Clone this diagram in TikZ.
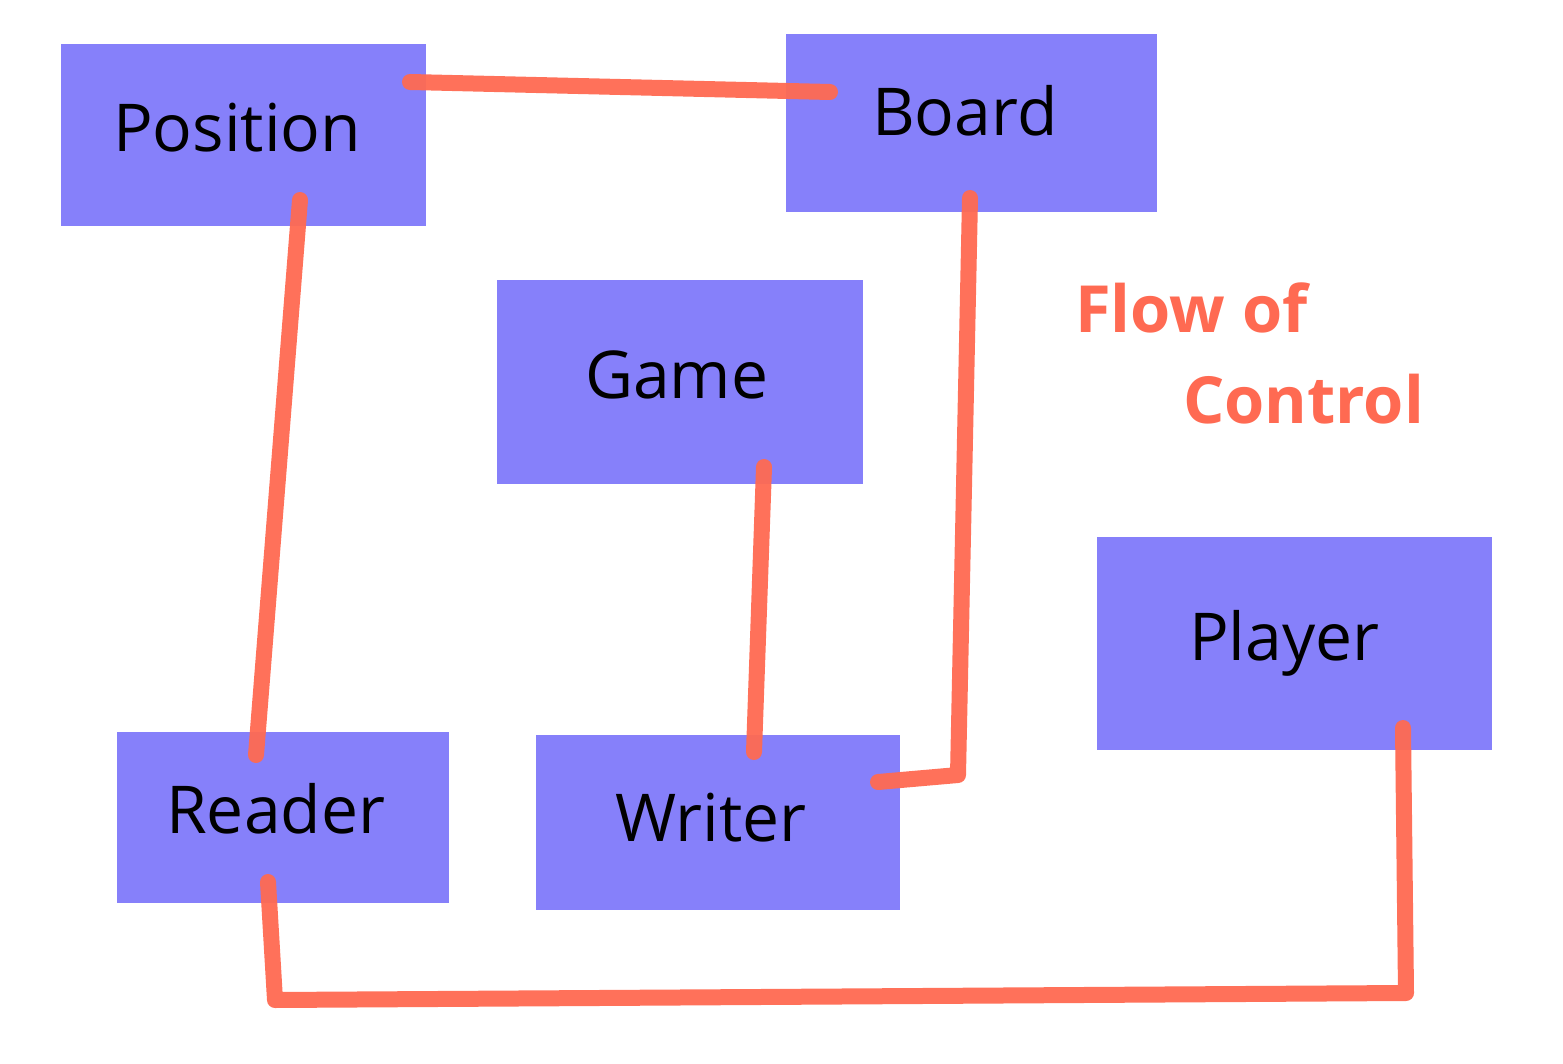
\documentclass[tikz,border=0pt]{standalone}
\usepackage{fontspec}
\setmainfont{Open Sans}
\definecolor{boxblue}{HTML}{8680FA}
\definecolor{flowred}{HTML}{FF6A52}
\begin{document}
\begin{tikzpicture}[x=1pt,y=-1pt,
  box/.style={fill=boxblue,draw=none,minimum width=#1,inner sep=0pt},
  lbl/.style={anchor=base west,inner sep=0pt,font=\fontsize{66}{70}\selectfont,text=black},
  flowtxt/.style={anchor=base west,inner sep=0pt,font=\fontsize{65}{70}\selectfont\bfseries,text=flowred},
  flow/.style={draw=flowred,line width=16pt,line cap=round,line join=round,opacity=0.95}]
\useasboundingbox (0,0) rectangle (1563,1064);
\fill[white] (0,0) rectangle (1563,1064);
% boxes
\node[box=365pt,minimum height=182pt] (pos) at (243.5,135) {};
\node[box=371pt,minimum height=178pt] (board) at (971.5,123) {};
\node[box=366pt,minimum height=204pt] (game) at (680,382) {};
\node[box=395pt,minimum height=213pt] (player) at (1294.5,643.5) {};
\node[box=332pt,minimum height=171pt] (reader) at (283,817.5) {};
\node[box=364pt,minimum height=175pt] (writer) at (718,822.5) {};
% labels
\node[lbl] (tpos) at (113,152) {Position};
\node[lbl] (tboard) at (872,136) {Board};
\node[lbl] (tgame) at (585,399) {Game};
\node[lbl] (tplayer) at (1189,660) {Player};
\node[lbl] (treader) at (166,833) {Reader};
\node[lbl] (twriter) at (615,841) {Writer};
\node[flowtxt] (tflow) at (1075,333) {Flow of};
\node[flowtxt] (tctrl) at (1183,423) {Control};
% connector end points
\coordinate (posR) at (410,82);
\coordinate (boardL) at (830,92);
\coordinate (posB) at (300,200);
\coordinate (readerT) at (256,755);
\coordinate (boardB) at (970,198);
\coordinate (bend1) at (958,775);
\coordinate (writerR) at (878,782);
\coordinate (gameB) at (764,467);
\coordinate (writerT) at (754,752);
\coordinate (readerB) at (268,882);
\coordinate (bend2) at (275,1000);
\coordinate (bend3) at (1406,993);
\coordinate (playerB) at (1403,728);
% connectors
\draw[flow] (posR) -- (boardL);
\draw[flow] (posB) -- (readerT);
\draw[flow] (boardB) -- (bend1) -- (writerR);
\draw[flow] (gameB) -- (writerT);
\draw[flow] (readerB) -- (bend2) -- (bend3) -- (playerB);
\end{tikzpicture}
\end{document}
